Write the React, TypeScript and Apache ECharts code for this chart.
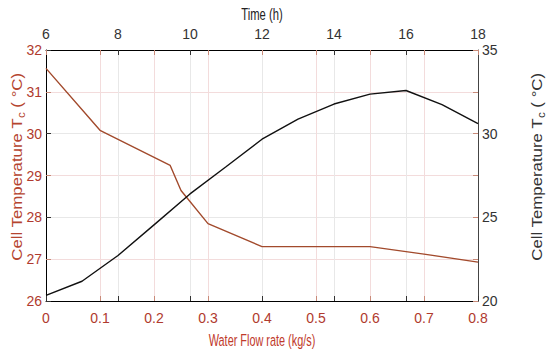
import React, { useEffect, useRef } from "react";
import * as echarts from "echarts";

// Bottom axis (water flow rate, kg/s) vs left axis (cell temperature, °C)
const flowRate = [0, 0.1, 0.23, 0.25, 0.3, 0.4, 0.5, 0.6, 0.7, 0.8];
const cellTempByFlow = [31.56, 30.08, 29.24, 28.64, 27.85, 27.3, 27.3, 27.3, 27.12, 26.93];

// Top axis (time, h) vs right axis (cell temperature, °C)
const timeHours = [6, 7, 8, 9, 10, 11, 12, 13, 14, 15, 16, 17, 18];
const cellTempByTime = [20.34, 21.18, 22.72, 24.55, 26.4, 28.02, 29.67, 30.87, 31.77, 32.36, 32.58, 31.73, 30.6];

const RED = "#b03a2e";
const RED_LINE = "#a24a2c";
const RED_TICK = "#c98a78";
const DARK = "#333333";
const FONT = "'Liberation Sans Narrow', 'Liberation Sans', Arial, sans-serif";
const TITLE_FONT = "'Liberation Sans', Arial, sans-serif";

export default function App() {
  const ref = useRef<HTMLDivElement>(null);

  useEffect(() => {
    if (!ref.current) return;
    const chart = echarts.init(ref.current, null, { renderer: "svg" });

    const flowFmt = (v: number) => (Math.abs(v) < 1e-9 ? "0" : v.toFixed(1));

    const option: any = {
      animation: false,
      backgroundColor: "#ffffff",
      grid: { left: 46, right: 72, top: 50, bottom: 51, containLabel: false },
      xAxis: [
        {
          type: "value",
          position: "bottom",
          min: 0,
          max: 0.8,
          interval: 0.1,
          axisLine: { show: true, onZero: false, lineStyle: { color: "#000", width: 1 } },
          axisTick: { show: true, inside: true, length: 5, lineStyle: { color: RED_TICK } },
          axisLabel: { color: RED, fontSize: 14, fontFamily: FONT, margin: 10, formatter: flowFmt },
          splitLine: { show: true, lineStyle: { color: "#f3dcdc", width: 1 } },
        },
        {
          type: "value",
          position: "top",
          min: 6,
          max: 18,
          interval: 2,
          axisLine: { show: true, onZero: false, lineStyle: { color: "#000", width: 1 } },
          axisTick: { show: true, inside: true, length: 5, lineStyle: { color: DARK } },
          axisLabel: { color: DARK, fontSize: 14, fontFamily: FONT, margin: 9 },
          splitLine: { show: true, lineStyle: { color: "#e8e8e8", width: 1 } },
        },
        {
          type: "value",
          position: "top",
          min: 0,
          max: 0.8,
          interval: 0.1,
          axisLine: { show: false, onZero: false },
          axisTick: { show: true, inside: true, length: 5, lineStyle: { color: RED_TICK } },
          axisLabel: { show: false },
          splitLine: { show: false },
        },
        {
          type: "value",
          position: "bottom",
          min: 6,
          max: 18,
          interval: 2,
          axisLine: { show: false, onZero: false },
          axisTick: { show: true, inside: true, length: 5, lineStyle: { color: DARK } },
          axisLabel: { show: false },
          splitLine: { show: false },
        },
      ],
      yAxis: [
        {
          type: "value",
          position: "left",
          min: 26,
          max: 32,
          interval: 1,
          axisLine: { show: true, onZero: false, lineStyle: { color: "#000", width: 1 } },
          axisTick: { show: true, inside: true, length: 5, lineStyle: { color: RED_TICK } },
          axisLabel: { color: RED, fontSize: 14, fontFamily: FONT, margin: 4 },
          splitLine: { show: true, lineStyle: { color: "#f3dcdc", width: 1 } },
        },
        {
          type: "value",
          position: "right",
          min: 20,
          max: 35,
          interval: 5,
          axisLine: { show: true, onZero: false, lineStyle: { color: "#444", width: 1 } },
          axisTick: { show: true, inside: true, length: 5, lineStyle: { color: DARK } },
          axisLabel: { color: DARK, fontSize: 14, fontFamily: FONT, margin: 4 },
          splitLine: { show: true, lineStyle: { color: "#e8e8e8", width: 1 } },
        },
        {
          type: "value",
          position: "right",
          min: 26,
          max: 32,
          interval: 1,
          axisLine: { show: false, onZero: false },
          axisTick: { show: true, inside: true, length: 5, lineStyle: { color: RED_TICK } },
          axisLabel: { show: false },
          splitLine: { show: false },
        },
        {
          type: "value",
          position: "left",
          min: 20,
          max: 35,
          interval: 5,
          axisLine: { show: false, onZero: false },
          axisTick: { show: true, inside: true, length: 5, lineStyle: { color: DARK } },
          axisLabel: { show: false },
          splitLine: { show: false },
        },
      ],
      series: [
        {
          name: "Cell temperature vs flow rate",
          type: "line",
          xAxisIndex: 0,
          yAxisIndex: 0,
          data: flowRate.map((f, i) => [f, cellTempByFlow[i]]),
          showSymbol: false,
          symbol: "none",
          lineStyle: { color: RED_LINE, width: 1.4 },
          z: 3,
        },
        {
          name: "Cell temperature vs time",
          type: "line",
          xAxisIndex: 1,
          yAxisIndex: 1,
          data: timeHours.map((t, i) => [t, cellTempByTime[i]]),
          showSymbol: false,
          symbol: "none",
          lineStyle: { color: "#111111", width: 1.4 },
          z: 3,
        },
      ],
      graphic: [
        {
          type: "text",
          x: 262,
          y: 14,
          scaleX: 0.66,
          style: {
            text: "Time (h)",
            fill: "#222",
            fontSize: 17,
            fontFamily: TITLE_FONT,
            textAlign: "center",
            textVerticalAlign: "middle",
          },
        },
        {
          type: "text",
          x: 262,
          y: 340,
          scaleX: 0.66,
          style: {
            text: "Water Flow rate (kg/s)",
            fill: "#c0392b",
            fontSize: 16.5,
            fontFamily: TITLE_FONT,
            textAlign: "center",
            textVerticalAlign: "middle",
          },
        },
        {
          type: "text",
          x: 17,
          y: 167,
          rotation: Math.PI / 2,
          scaleX: 1.16,
          style: {
            text: "{m|Cell Temperature T}{s|c}{m| ( °C)}",
            fill: "#b5452f",
            fontFamily: TITLE_FONT,
            textAlign: "center",
            textVerticalAlign: "middle",
            rich: {
              m: { fontSize: 14.5, lineHeight: 18, fill: "#b5452f", fontFamily: TITLE_FONT },
              s: { fontSize: 10, verticalAlign: "bottom", fill: "#b5452f", fontFamily: TITLE_FONT },
            },
          },
        },
        {
          type: "text",
          x: 537,
          y: 167,
          rotation: Math.PI / 2,
          scaleX: 1.16,
          style: {
            text: "{m|Cell Temperature T}{s|c}{m| ( °C)}",
            fill: "#333",
            fontFamily: TITLE_FONT,
            textAlign: "center",
            textVerticalAlign: "middle",
            rich: {
              m: { fontSize: 14.5, lineHeight: 18, fill: "#333", fontFamily: TITLE_FONT },
              s: { fontSize: 10, verticalAlign: "bottom", fill: "#333", fontFamily: TITLE_FONT },
            },
          },
        },
      ],
    };

    chart.setOption(option);
    return () => {
      chart.dispose();
    };
  }, []);

  return (
    <div
      ref={ref}
      style={{ position: "absolute", left: 0, top: 0, width: 550, height: 352 }}
    />
  );
}
